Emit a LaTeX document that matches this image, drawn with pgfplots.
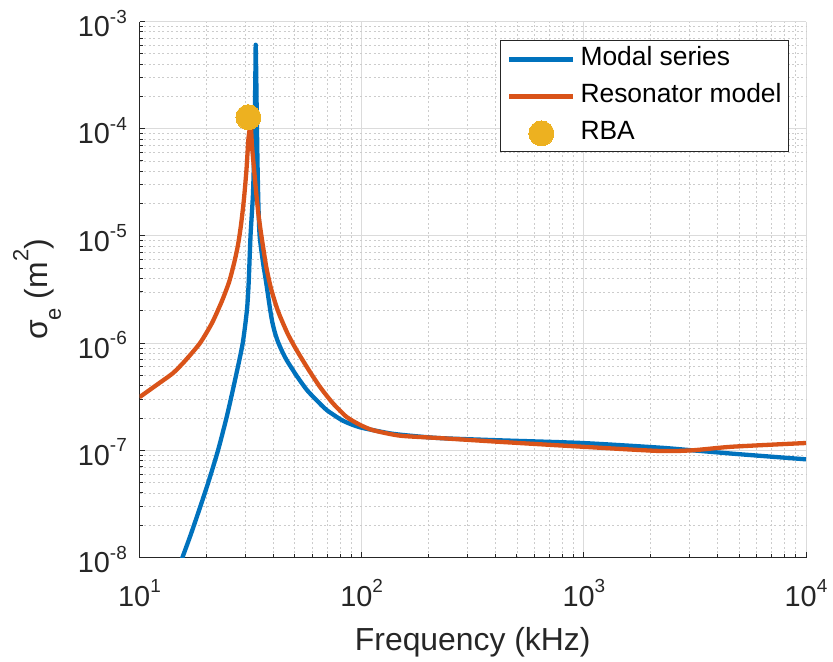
\documentclass[border=0pt]{standalone}
\usepackage{fontspec}
\setmainfont{Liberation Sans}
\usepackage{pgfplots}
\pgfplotsset{compat=1.18}
\definecolor{mblue}{rgb}{0,0.447,0.741}
\definecolor{morange}{rgb}{0.85,0.325,0.098}
\definecolor{myellow}{rgb}{0.929,0.694,0.125}
\definecolor{axcol}{rgb}{0.15,0.15,0.15}
\newcommand{\sups}[1]{\raisebox{0.47em}{\fontsize{19}{21}\selectfont #1}}
\pgfplotstableread{
f s
15.0 8.05e-9
15.6 1.0e-8
17.0 1.63e-8
18.6 2.81e-8
20.4 5.02e-8
22.6 1.01e-7
24.8 2.13e-7
26.9 4.5e-7
29.12 9.87e-7
30.45 2.03e-6
31.0 3.63e-6
31.6 1.0e-5
32.4 2.4e-5
32.84 6.34e-5
33.11 1.86e-4
33.25 3.54e-4
33.35 6.07e-4
33.53 3.18e-4
33.74 1.21e-4
33.99 4.59e-5
34.30 1.94e-5
34.74 9.97e-6
35.95 5.70e-6
37.20 3.63e-6
38.77 2.03e-6
39.66 1.55e-6
40.7 1.25e-6
41.98 1.03e-6
43.75 8.47e-7
46.08 6.87e-7
51.1 4.92e-7
56.7 3.65e-7
62.9 2.91e-7
69.7 2.37e-7
82.3 1.89e-7
98.2 1.64e-7
133.9 1.44e-7
164.8 1.37e-7
224.8 1.30e-7
416 1.24e-7
983 1.17e-7
2183 1.06e-7
3076 1.0e-7
5000 9.2e-8
10000 8.24e-8
}\modal
\pgfplotstableread{
f s
10 3.13e-7
12 4.1e-7
14.15 5.25e-7
16 6.8e-7
18.72 1.0e-6
21.2 1.54e-6
23.5 2.47e-6
25.3 3.71e-6
26.6 5.47e-6
27.7 8.05e-6
28.6 1.24e-5
29.5 2.17e-5
30.3 4.13e-5
30.9 7.9e-5
31.4 1.02e-4
31.7 1.1e-4
32.07 7.06e-5
32.74 4.31e-5
33.43 2.68e-5
34.30 1.6e-5
35.39 9.98e-6
37.20 5.15e-6
39.04 3.26e-6
41.11 2.27e-6
42.86 1.79e-6
46.56 1.21e-6
50.94 8.61e-7
57.28 5.78e-7
64.86 3.91e-7
74.2 2.75e-7
85.5 2.05e-7
98.2 1.73e-7
112.6 1.54e-7
148.5 1.37e-7
224.8 1.30e-7
416 1.20e-7
983 1.08e-7
2183 9.86e-8
3076 1.0e-7
4645 1.08e-7
10000 1.17e-7
}\reson
\pgfplotstableread{
f s
30.9 1.28e-4
}\rba
\begin{document}
\begin{tikzpicture}
\begin{axis}[
  xmode=log, ymode=log,
  scale only axis, width=666.5bp, height=536bp,
  xmin=10, xmax=10000, ymin=1e-8, ymax=1e-3,
  axis x line*=bottom, axis y line*=left,
  axis line style={axcol, line width=1.1bp},
  xtick={10,100,1000,10000},
  xticklabels={10\sups{1},10\sups{2},10\sups{3},10\sups{4}},
  ytick={1e-8,1e-7,1e-6,1e-5,1e-4,1e-3},
  yticklabels={10\sups{-8},10\sups{-7},10\sups{-6},10\sups{-5},10\sups{-4},10\sups{-3}},
  minor xtick={20,30,40,50,60,70,80,90,200,300,400,500,600,700,800,900,2000,3000,4000,5000,6000,7000,8000,9000},
  minor ytick={2e-8,3e-8,4e-8,5e-8,6e-8,7e-8,8e-8,9e-8,2e-7,3e-7,4e-7,5e-7,6e-7,7e-7,8e-7,9e-7,2e-6,3e-6,4e-6,5e-6,6e-6,7e-6,8e-6,9e-6,2e-5,3e-5,4e-5,5e-5,6e-5,7e-5,8e-5,9e-5,2e-4,3e-4,4e-4,5e-4,6e-4,7e-4,8e-4,9e-4},
  tick align=inside,
  major tick length=6bp, minor tick length=4bp,
  tick style={axcol, line width=1.0bp},
  grid=both,
  major grid style={black!14, line width=0.9bp},
  minor grid style={black!20, line width=0.8bp, dash pattern=on 2bp off 2.5bp},
  tick label style={font=\fontsize{29}{34}\selectfont, text=axcol},
  xticklabel style={inner sep=0bp, yshift=-22bp},
  yticklabel style={inner sep=0bp, xshift=-12.5bp, yshift=-2bp},
  xlabel={Frequency (kHz)},
  ylabel={σ\raisebox{-0.42em}{\fontsize{22}{24}\selectfont e} (m\raisebox{0.6em}{\fontsize{22}{24}\selectfont 2})},
  label style={font=\fontsize{32}{36}\selectfont, text=axcol},
  xlabel style={at={(axis description cs:0.5,0)}, anchor=base, yshift=-92.5bp},
  ylabel style={at={([xshift=-92bp]axis description cs:0,0.5)}, anchor=base},
  legend cell align=left,
  legend image code/.code={\draw[mark repeat=2,mark phase=2] plot coordinates {(0bp,0bp) (32bp,0bp) (64bp,0bp)};},
  legend style={at={(0.9745,0.9647)}, anchor=north east, draw=axcol, line width=0.9bp, fill=white,
    font=\fontsize{26.5}{30}\selectfont, text=black, inner xsep=7bp, inner ysep=6bp,
    nodes={inner sep=0bp, text height=19bp, text depth=6bp},
    row sep=12bp, column sep=5bp},
]
\addplot[mblue, line width=4.3bp, line join=round, smooth, tension=0.4, no marks] table[x=f,y=s] {\modal};
\addlegendentry{Modal series}
\addplot[morange, line width=4.3bp, line join=round, smooth, tension=0.4, no marks] table[x=f,y=s] {\reson};
\addlegendentry{Resonator model}
\addplot[only marks, mark=*, mark size=12.5bp, mark options={fill=myellow, draw=myellow, line width=0bp}] table[x=f,y=s] {\rba};
\addlegendentry{RBA}
\end{axis}
\pgfresetboundingbox
\path ([xshift=-139.5bp,yshift=-104.5bp]current axis.south west) rectangle ++(833bp,662bp);
\end{tikzpicture}
\end{document}
